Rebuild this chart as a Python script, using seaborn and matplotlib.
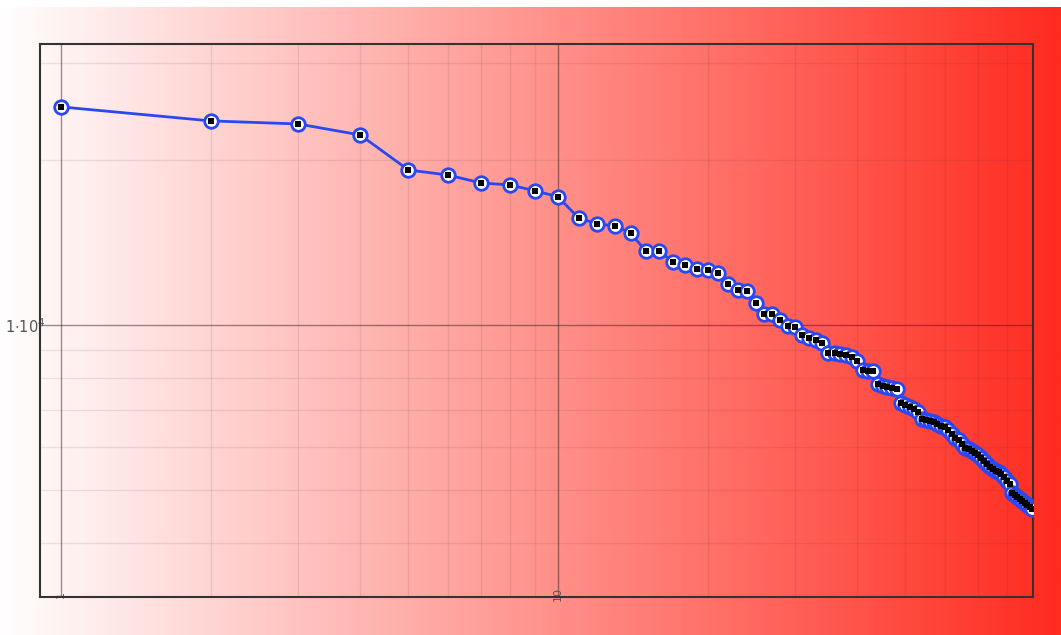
import numpy as np
import pandas as pd
import matplotlib
matplotlib.use("Agg")
import matplotlib.pyplot as plt
from matplotlib.colors import LinearSegmentedColormap
from matplotlib.ticker import FixedLocator, FixedFormatter, LogLocator, NullFormatter
import seaborn as sns

# Rank-ordered values (rank 1..90), log-log view
ranks = list(range(1, 91))
values = [
    25000, 23570, 23270, 22220, 19180, 18780, 18160, 18010, 17570, 17130,
    15680, 15290, 15160, 14720, 13650, 13650, 13030, 12870, 12650, 12600,
    12440, 11880, 11580, 11540, 10970, 10470, 10470, 10210, 9960, 9920,
    9590, 9470, 9390, 9270, 8890, 8890, 8850, 8810, 8740, 8600,
    8280, 8240, 8240, 7810, 7740, 7710, 7670, 7640, 7200, 7140,
    7080, 7030, 6940, 6740, 6710, 6680, 6650, 6600, 6540, 6510,
    6430, 6330, 6220, 6170, 6070, 5960, 5940, 5890, 5840, 5790,
    5720, 5650, 5580, 5510, 5460, 5410, 5390, 5350, 5280, 5190,
    5130, 4940, 4900, 4850, 4810, 4770, 4730, 4690, 4650, 4620,
]
x_ticks = [1, 10]
x_tick_labels = ["1", "10"]
y_ticks = [1e4]
y_tick_labels = [r"$1{\cdot}10^4$"]

df = pd.DataFrame({"rank": ranks, "value": values})

sns.set_style("white")
plt.rcParams["font.family"] = ["DejaVu Sans"]

W, H = 1061, 635
fig = plt.figure(figsize=(W / 100, H / 100), dpi=100)
fig.patch.set_facecolor("white")

# white-to-red horizontal gradient backdrop
bg = fig.add_axes([0, 0, 1, (H - 7) / H], zorder=0)
cmap = LinearSegmentedColormap.from_list("wr", ["#ffffff", "#ff2b1f"])
bg.imshow(np.linspace(0, 1, 512)[None, :], aspect="auto", cmap=cmap,
          extent=[0, 1, 0, 1])
bg.set_axis_off()

ax = fig.add_axes([40 / W, 1 - 597 / H, (1033 - 40) / W, (597 - 44) / H], zorder=1)
ax.patch.set_alpha(0)
ax.set_xscale("log")
ax.set_yscale("log")

sns.lineplot(data=df, x="rank", y="value", ax=ax, color="#2a48f0",
             linewidth=2.0, zorder=3, legend=False)
sns.scatterplot(data=df, x="rank", y="value", ax=ax, marker="o", s=95,
                facecolor="white", edgecolor="#2a48f0", linewidth=2.0,
                zorder=4, legend=False)
sns.scatterplot(data=df, x="rank", y="value", ax=ax, marker="s", s=24,
                color="black", edgecolor="black", linewidth=0,
                zorder=5, legend=False)

ax.set_xlim(0.9073, 90.3)
ax.set_ylim(3189, 32560)

# grid: major lines darker, minor lines faint
ax.xaxis.set_major_locator(FixedLocator(x_ticks))
ax.xaxis.set_major_formatter(FixedFormatter(x_tick_labels))
ax.xaxis.set_minor_locator(LogLocator(base=10, subs=np.arange(2, 10)))
ax.xaxis.set_minor_formatter(NullFormatter())
ax.yaxis.set_major_locator(FixedLocator(y_ticks))
ax.yaxis.set_major_formatter(FixedFormatter(y_tick_labels))
ax.yaxis.set_minor_locator(LogLocator(base=10, subs=np.arange(2, 10)))
ax.yaxis.set_minor_formatter(NullFormatter())

ax.grid(which="major", color="#3a2020", alpha=0.5, linewidth=1.0, zorder=1)
ax.grid(which="minor", color="#5a3030", alpha=0.11, linewidth=1.0, zorder=1)
ax.set_axisbelow(True)

ax.tick_params(axis="both", which="both", length=0)
ax.tick_params(axis="x", labelsize=8, labelcolor="#555555", pad=-2,
               labelrotation=90)
ax.tick_params(axis="y", labelsize=10.5, labelcolor="#555555", pad=-4)
for lbl in ax.get_xticklabels():
    lbl.set_va("center")

for sp in ax.spines.values():
    sp.set_color("#333333")
    sp.set_linewidth(1.5)
    sp.set_visible(True)

ax.set_xlabel("")
ax.set_ylabel("")

fig.savefig("out.png", dpi=100)
